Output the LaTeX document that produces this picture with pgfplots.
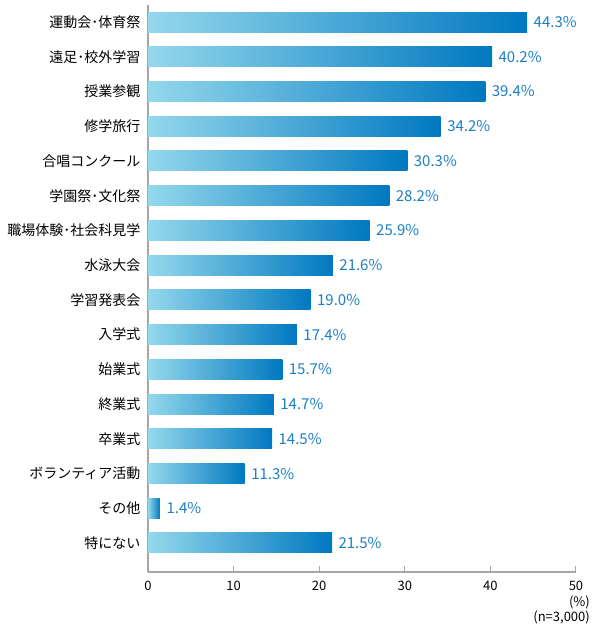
\documentclass[border=0pt]{standalone}
\usepackage{fontspec}
\setmainfont{Noto Sans CJK JP}
\usepackage{pgfplots}
\pgfplotsset{compat=1.18}
\definecolor{barL}{RGB}{148,216,236}
\definecolor{barR}{RGB}{0,120,192}
\definecolor{valc}{RGB}{28,126,196}
\definecolor{axg}{RGB}{165,165,165}
\pgfplotsset{mybar/.style={xbar, bar width=20pt, draw=none, left color=barL, right color=barR}}
\begin{document}
\begin{tikzpicture}
\begin{axis}[
  scale only axis, width=428pt, height=567pt,
  at={(0pt,0pt)}, anchor=south west,
  xmin=0, xmax=50, ymin=-0.835, ymax=15.49,
  axis lines*=left,
  axis line style={-, axg, line width=1.4pt},
  clip=false,
  xtick={0,10,20,30,40,50},
  tick align=inside,
  major tick length=6pt,
  xtick style={axg, line width=1pt},
  ytick style={draw=none},
  ytick={0,...,15},
  yticklabels={特にない,その他,ボランティア活動,卒業式,終業式,始業式,入学式,学習発表会,水泳大会,職場体験･社会科見学,学園祭･文化祭,合唱コンクール,修学旅行,授業参観,遠足･校外学習,運動会･体育祭},
  yticklabel style={font=\fontsize{14}{14}\selectfont, text=black, xshift=-4pt},
  xticklabel style={font=\fontsize{13}{13}\selectfont, text=black, yshift=-6pt},
  /pgf/number format/assume math mode=true,
  point meta=x,
  nodes near coords={\pgfmathprintnumber[fixed,fixed zerofill,precision=1]{\pgfplotspointmeta}\%},
  nodes near coords align={horizontal},
  every node near coord/.append style={font=\fontsize{15}{15}\selectfont, text=valc, xshift=3pt},
]
\addplot[mybar] coordinates {(21.5,0)};
\addplot[mybar] coordinates {(1.4,1)};
\addplot[mybar] coordinates {(11.3,2)};
\addplot[mybar] coordinates {(14.5,3)};
\addplot[mybar] coordinates {(14.7,4)};
\addplot[mybar] coordinates {(15.7,5)};
\addplot[mybar] coordinates {(17.4,6)};
\addplot[mybar] coordinates {(19.0,7)};
\addplot[mybar] coordinates {(21.6,8)};
\addplot[mybar] coordinates {(25.9,9)};
\addplot[mybar] coordinates {(28.2,10)};
\addplot[mybar] coordinates {(30.3,11)};
\addplot[mybar] coordinates {(34.2,12)};
\addplot[mybar] coordinates {(39.4,13)};
\addplot[mybar] coordinates {(40.2,14)};
\addplot[mybar] coordinates {(44.3,15)};
\end{axis}
\node[anchor=east, font=\fontsize{13}{13}\selectfont, inner sep=0pt] at (442pt,-30pt) {(\%)};
\node[anchor=east, font=\fontsize{13}{13}\selectfont, inner sep=0pt] at (442pt,-45pt) {(n=3,000)};
\pgfresetboundingbox
\path (-148pt,-55pt) rectangle (444pt,572pt);
\end{tikzpicture}
\end{document}
